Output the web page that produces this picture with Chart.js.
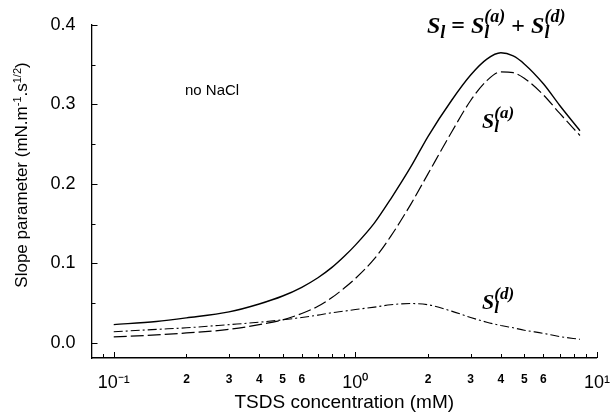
<!DOCTYPE html>
<html>
<head>
<meta charset="utf-8">
<script src="https://cdn.jsdelivr.net/npm/chart.js@4"></script>
<style>
  html, body { margin: 0; padding: 0; background: #fff; }
  #wrap { width: 616px; height: 414px; position: relative; }
</style>
</head>
<body>
<div id="wrap"><canvas id="chart"></canvas></div>
<script>
// Concentration TSDS (mM) - abscisse commune aux trois courbes
const conc = [0.1, 0.15, 0.2, 0.3, 0.4, 0.5, 0.6, 0.7, 0.8, 0.9, 1.0, 1.2, 1.4, 1.7, 2.0, 2.5, 3.0, 3.5, 4.0, 4.5, 5, 6, 7, 8.5];
// S_l = S_l(a) + S_l(d)
const slopeTotal = [0.023, 0.027, 0.0315, 0.039, 0.049, 0.059, 0.070, 0.082, 0.095, 0.109, 0.123, 0.151, 0.181, 0.222, 0.260, 0.305, 0.337, 0.357, 0.365, 0.361, 0.351, 0.326, 0.299, 0.267];
// S_l(a)
const slopeAds = [0.0075, 0.010, 0.0125, 0.017, 0.023, 0.029, 0.037, 0.046, 0.057, 0.069, 0.081, 0.106, 0.134, 0.175, 0.213, 0.265, 0.305, 0.330, 0.341, 0.340, 0.333, 0.312, 0.289, 0.261];
// S_l(d)
const slopeDiff = [0.014, 0.017, 0.019, 0.023, 0.026, 0.029, 0.032, 0.035, 0.038, 0.040, 0.042, 0.045, 0.048, 0.0495, 0.048, 0.040, 0.032, 0.026, 0.022, 0.019, 0.016, 0.012, 0.008, 0.0045];

// Graduations
const xTicks = [0.09, 0.1, 0.2, 0.3, 0.4, 0.5, 0.6, 0.7, 0.8, 0.9, 1, 2, 3, 4, 5, 6, 7, 8, 9, 10];
const xLabels = ['', '10⁻¹', '2', '3', '4', '5', '6', '', '', '', '10⁰', '2', '3', '4', '5', '6', '', '', '', '10¹'];
const yTicks = [0, 0.05, 0.1, 0.15, 0.2, 0.25, 0.3, 0.35, 0.4];
const yLabels = ['0.0', '', '0.1', '', '0.2', '', '0.3', '', '0.4'];

const SANS = "'Liberation Sans', Arial, sans-serif";
const SERIF = "'Liberation Serif', 'Times New Roman', serif";

Chart.defaults.font.family = SANS;
Chart.defaults.color = '#000';

function pts(ys) {
    return conc.map((x, i) => ({ x: x, y: ys[i] }));
}

// texte avec indices / exposants
function richWidth(ctx, parts) {
    let w = 0;
    parts.forEach(p => {
        ctx.font = p.font;
        const tw = ctx.measureText(p.text).width;
        if (p.stack) {
            ctx.font = p.stack.font;
            w += Math.max(tw, ctx.measureText(p.stack.text).width);
        } else {
            w += tw;
        }
    });
    return w;
}
function drawRich(ctx, parts, x, y) {
    ctx.textBaseline = 'alphabetic';
    ctx.textAlign = 'left';
    parts.forEach(p => {
        ctx.font = p.font;
        ctx.fillText(p.text, x, y + (p.dy || 0));
        let tw = ctx.measureText(p.text).width;
        if (p.stack) {
            ctx.font = p.stack.font;
            ctx.fillText(p.stack.text, x, y + p.stack.dy);
            tw = Math.max(tw, ctx.measureText(p.stack.text).width);
        }
        x += tw + (p.after || 0);
    });
}

function slParts(size, sup) {
    const big = 'italic bold ' + size + 'px ' + SERIF;
    const small = 'italic bold ' + Math.round(size * 0.76) + 'px ' + SERIF;
    const parts = [{ text: 'S', font: big }];
    const sub = { text: 'l', font: small, dy: Math.round(size * 0.2) };
    if (sup) sub.stack = { text: sup, font: small, dy: -Math.round(size * 0.45) };
    parts.push(sub);
    return parts;
}

const decorPlugin = {
    id: 'decor',
    afterDraw(chart) {
        const ctx = chart.ctx;
        const xs = chart.scales.x, ys = chart.scales.y;
        const area = chart.chartArea;
        ctx.save();
        // petites graduations vers l'interieur
        ctx.strokeStyle = '#000';
        ctx.lineWidth = 1;
        xTicks.forEach((v, i) => {
            const px = Math.round(xs.getPixelForValue(v)) + 0.5;
            const len = xLabels[i].startsWith('10') ? 6 : 4;
            ctx.beginPath();
            ctx.moveTo(px, area.bottom);
            ctx.lineTo(px, area.bottom - len);
            ctx.stroke();
        });
        yTicks.forEach((v, i) => {
            const py = Math.round(ys.getPixelForValue(v)) + 0.5;
            const len = yLabels[i] ? 6 : 4;
            ctx.beginPath();
            ctx.moveTo(area.left, py);
            ctx.lineTo(area.left + len, py);
            ctx.stroke();
        });

        ctx.fillStyle = '#000';
        // titre de l'axe Y
        const reg = '17px ' + SANS, sm = '11px ' + SANS;
        const yt = [
            { text: 'Slope parameter (mN.m', font: reg },
            { text: '-1', font: sm, dy: -6 },
            { text: '.s', font: reg },
            { text: '1/2', font: sm, dy: -6 },
            { text: ')', font: reg }
        ];
        ctx.save();
        ctx.translate(27, 175);
        ctx.rotate(-Math.PI / 2);
        drawRich(ctx, yt, -richWidth(ctx, yt) / 2, 0);
        ctx.restore();

        // no NaCl
        ctx.font = '15px ' + SANS;
        ctx.textAlign = 'left';
        ctx.textBaseline = 'alphabetic';
        ctx.fillText('no NaCl', 185, 95);

        // formules
        const f = 24;
        const op = 'bold ' + f + 'px ' + SERIF;
        const formula = [].concat(
            slParts(f, null),
            [{ text: ' = ', font: op }],
            slParts(f, '(a)'),
            [{ text: ' + ', font: op }],
            slParts(f, '(d)')
        );
        drawRich(ctx, formula, 427, 33);
        drawRich(ctx, slParts(22, '(a)'), 482, 128);
        drawRich(ctx, slParts(22, '(d)'), 482, 309);
        ctx.restore();
    }
};

new Chart(document.getElementById('chart'), {
    type: 'line',
    data: {
        datasets: [{
            label: 'S_l',
            data: pts(slopeTotal),
            borderColor: '#000',
            borderWidth: 1.4,
            pointRadius: 0,
            cubicInterpolationMode: 'monotone'
        }, {
            label: 'S_l(a)',
            data: pts(slopeAds),
            borderColor: '#000',
            borderWidth: 1.2,
            borderDash: [13, 4],
            pointRadius: 0,
            cubicInterpolationMode: 'monotone'
        }, {
            label: 'S_l(d)',
            data: pts(slopeDiff),
            borderColor: '#000',
            borderWidth: 1.1,
            borderDash: [9, 3, 2, 3],
            pointRadius: 0,
            cubicInterpolationMode: 'monotone'
        }]
    },
    options: {
        responsive: true,
        maintainAspectRatio: false,
        animation: false,
        layout: { padding: { left: 0, top: 25, right: 13, bottom: 0 } },
        plugins: {
            legend: { display: false },
            tooltip: { enabled: false }
        },
        scales: {
            x: {
                type: 'logarithmic',
                min: 0.0809,
                max: 10,
                afterBuildTicks: s => { s.ticks = xTicks.map(v => ({ value: v })); },
                afterFit: s => { s.height = 56; },
                grid: { display: false },
                border: { display: true, color: '#000', width: 1.5 },
                ticks: {
                    autoSkip: false,
                    maxRotation: 0,
                    padding: 6,
                    callback: (v, i) => xLabels[i],
                    font: c => (xLabels[c.index] || '').startsWith('10') ? { size: 18 } : { size: 12, weight: 'bold' }
                },
                title: {
                    display: true,
                    text: 'TSDS concentration (mM)',
                    font: { size: 19 },
                    padding: { top: 0, bottom: 0 }
                }
            },
            y: {
                min: -0.019,
                max: 0.4,
                afterBuildTicks: s => { s.ticks = yTicks.map(v => ({ value: v })); },
                afterFit: s => { s.width = 91.5; },
                grid: { display: false },
                border: { display: true, color: '#000', width: 1.3 },
                ticks: {
                    padding: 8,
                    callback: (v, i) => yLabels[i],
                    font: { size: 18 }
                }
            }
        }
    },
    plugins: [decorPlugin]
});
</script>
</body>
</html>
